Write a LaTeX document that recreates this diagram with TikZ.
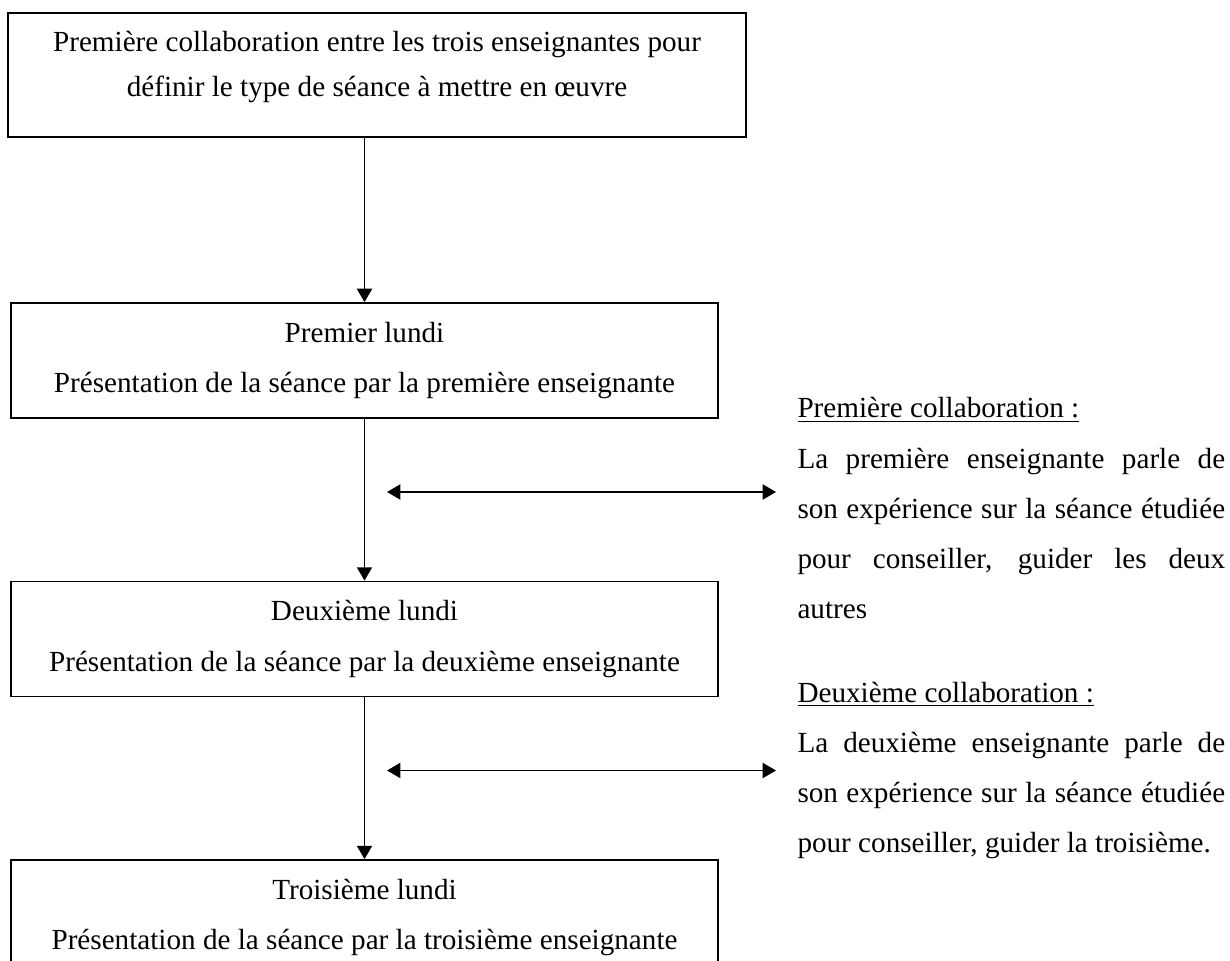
\documentclass[tikz,border=0pt]{standalone}
\usepackage{fontspec}
\setmainfont{Liberation Serif}
\usetikzlibrary{arrows.meta}
\tikzset{
  boite/.style={draw,line width=0.75pt,align=center,inner sep=0pt,
    font=\fontsize{12pt}{20.6pt}\selectfont},
  fleche/.style={line width=0.75pt,-{Triangle[length=5.5pt,width=6.2pt]}},
  flechedouble/.style={line width=0.75pt,
    {Triangle[length=5.5pt,width=6.2pt]}-{Triangle[length=5.5pt,width=6.2pt]}},
  texte/.style={anchor=base west,inner sep=0pt,font=\fontsize{12pt}{14pt}\selectfont}
}
\newcommand{\ligne}[1]{\makebox[176pt][s]{#1}}

\begin{document}
\begin{tikzpicture}[x=0.4115pt,y=-0.4115pt]
    \useasboundingbox (0,0) rectangle (1230,961);
    \clip (0,0) rectangle (1230,961);

    % les quatre etapes
    \node[boite,minimum width=303.7pt,minimum height=51pt,
          font=\fontsize{12pt}{18.5pt}\selectfont] (B1) at (377,75)
        {Première collaboration entre les trois enseignantes pour\\définir le type de séance à mettre en œuvre\rule[-8.8pt]{0pt}{8.8pt}};
    \node[boite,minimum width=290.9pt,minimum height=47.3pt] (B2) at (364.5,360.5)
        {Premier lundi\\Présentation de la séance par la première enseignante};
    \node[boite,minimum width=290.9pt,minimum height=47.3pt] (B3) at (364.5,639)
        {Deuxième lundi\\Présentation de la séance par la deuxième enseignante};
    \node[boite,minimum width=290.9pt,minimum height=47.3pt] (B4) at (364.5,917.5)
        {Troisième lundi\\Présentation de la séance par la troisième enseignante};

    \draw[fleche] (B1.south -| B2.north) -- (B2.north);
    \draw[fleche] (B2.south) -- (B3.north);
    \draw[fleche] (B3.south) -- (B4.north);

    % les collaborations
    \path[coordinate] (387,492) coordinate(G1)
                ++(389,0) coordinate(D1);
    \path[coordinate] (387,770.5) coordinate(G2)
                ++(389,0) coordinate(D2);
    \draw[flechedouble] (G1) -- (D1);
    \draw[flechedouble] (G2) -- (D2);

    \node[texte] (C1) at (797,418) {\underline{Première collaboration~:}};
    \node[texte] (C1a) at (797,468) {\ligne{La première enseignante parle de}};
    \node[texte] (C1b) at (797,518) {\ligne{son expérience sur la séance étudiée}};
    \node[texte] (C1c) at (797,568) {\ligne{pour conseiller, guider les deux}};
    \node[texte] (C1d) at (797,618) {autres};

    \node[texte] (C2) at (797,702) {\underline{Deuxième collaboration~:}};
    \node[texte] (C2a) at (797,752) {\ligne{La deuxième enseignante parle de}};
    \node[texte] (C2b) at (797,802) {\ligne{son expérience sur la séance étudiée}};
    \node[texte] (C2c) at (797,852) {pour conseiller, guider la troisième.};

\end{tikzpicture}
\end{document}
